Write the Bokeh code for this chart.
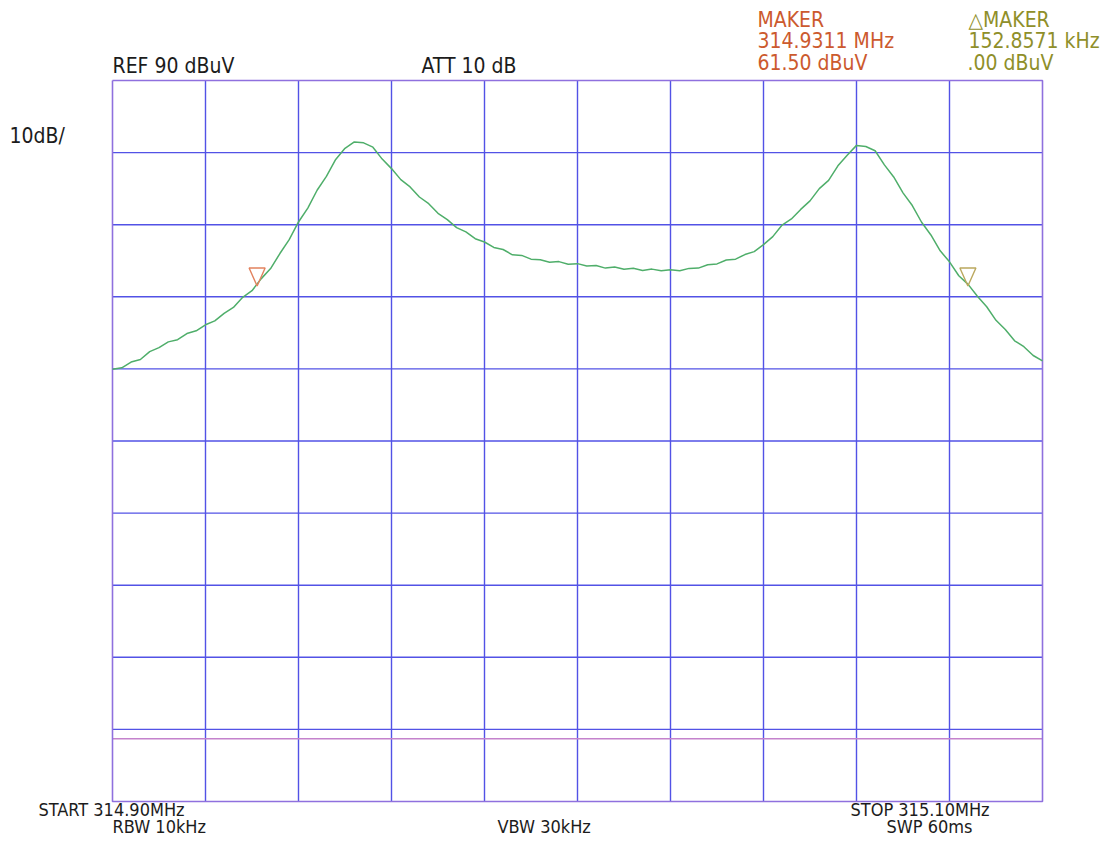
import numpy as np
from bokeh.plotting import figure
from bokeh.models import Range1d
from bokeh.core.properties import value
from bokeh.embed import file_html
from bokeh.resources import INLINE

# ---------------- data ----------------
start_mhz = 314.90
stop_mhz = 315.10
ref_level = 90.0
bottom_level = -10.0
freq_grid = [314.90, 314.92, 314.94, 314.96, 314.98, 315.00,
             315.02, 315.04, 315.06, 315.08, 315.10]
level_grid = [90, 80, 70, 60, 50, 40, 30, 20, 10, 0, -10]
display_line_level = -1.3

marker_freq = 314.9311      # MHz
marker_level = 61.50        # dBuV
delta_freq_khz = 152.8571
delta_level = 0.00

trace_level = [
    49.95, 50.15, 50.95, 51.30, 52.40, 52.95, 53.75, 54.05, 54.90, 55.28,
    56.12, 56.66, 57.70, 58.52, 59.93, 60.85, 62.52, 63.92, 66.00, 67.92,
    70.38, 72.30, 74.78, 76.70, 79.05, 80.60, 81.48, 81.35, 80.75, 79.10,
    77.78, 76.25, 75.24, 73.84, 72.92, 71.58, 70.70, 69.60, 69.00, 68.06,
    67.60, 66.85, 66.56, 65.82, 65.74, 65.22, 65.14, 64.80, 64.88, 64.52,
    64.60, 64.26, 64.33, 63.98, 64.12, 63.83, 63.95, 63.66, 63.84, 63.60,
    63.76, 63.62, 63.94, 63.98, 64.45, 64.56, 65.10, 65.22, 65.86, 66.27,
    67.24, 68.35, 69.95, 70.80, 72.12, 73.30, 75.00, 76.14, 78.16, 79.64,
    81.00, 80.85, 80.26, 78.30, 76.62, 74.42, 72.66, 70.34, 68.58, 66.38,
    64.85, 62.92, 61.72, 60.08, 58.62, 56.74, 55.46, 53.90, 53.08, 51.86,
    51.10,
]
# equally spaced sweep points between START and STOP
trace_freq = np.linspace(start_mhz, stop_mhz, len(trace_level))

# ---------------- layout ----------------
W, H = 1104, 839
GRID_L, GRID_R, GRID_T, GRID_B = 112, 1042, 80, 801   # figure pixels
TEXT_SHIFT = 8   # rendered alphabetic baseline sits this far below the anchor
xpp = (stop_mhz - start_mhz) / (GRID_R - GRID_L)
ypp = (ref_level - bottom_level) / (GRID_B - GRID_T)

def px(x_px):
    return start_mhz + (x_px - GRID_L) * xpp

def py(y_px):
    return ref_level - (y_px - GRID_T) * ypp

p = figure(width=W, height=H, output_backend="svg", toolbar_location=None,
           x_range=Range1d(start_mhz - GRID_L * xpp, stop_mhz + (W - GRID_R) * xpp),
           y_range=Range1d(bottom_level - (H - GRID_B) * ypp, ref_level + GRID_T * ypp),
           x_axis_location=None, y_axis_location=None, min_border=0)
p.grid.visible = False
p.outline_line_color = None
p.background_fill_color = "white"
p.border_fill_color = "white"

GRID_C = "#5252e6"
BORDER_C = "#8f70de"

inner_f = freq_grid[1:-1]
inner_l = level_grid[1:-1]
p.segment(x0=inner_f, y0=[bottom_level] * len(inner_f), x1=inner_f,
          y1=[ref_level] * len(inner_f), line_color=GRID_C, line_width=1.4)
p.segment(x0=[start_mhz] * len(inner_l), y0=inner_l, x1=[stop_mhz] * len(inner_l),
          y1=inner_l, line_color=GRID_C, line_width=1.4)
# display line
p.segment(x0=[start_mhz], y0=[display_line_level], x1=[stop_mhz], y1=[display_line_level],
          line_color="#c482cc", line_width=1.4)
# frame border
p.line(x=[start_mhz, stop_mhz, stop_mhz, start_mhz, start_mhz],
       y=[ref_level, ref_level, bottom_level, bottom_level, ref_level],
       line_color=BORDER_C, line_width=1.6)

# trace
p.line(x=trace_freq, y=trace_level, line_color="#4fae6a", line_width=1.5)

# marker triangles (tip on the marker point)
hw = 8 * xpp
th = 18 * ypp
delta_freq = marker_freq + delta_freq_khz / 1000.0
for f, lv, c in [(marker_freq, marker_level, "#e2825e"),
                 (delta_freq, marker_level + delta_level, "#bba85e")]:
    p.patch(x=[f - hw, f + hw, f], y=[lv + th, lv + th, lv],
            fill_color=None, line_color=c, line_width=1.4)

# texts: (text, left x px, baseline y px, colour, size)
FONT = value("DejaVu Sans Condensed")
DARK = "#1c1c1c"
MK = "#cc5a2e"
DMK = "#8f8f2a"
labels = [
    ("REF 90 dBuV", 112, 73, DARK, 21),
    ("ATT 10 dB", 421, 73, DARK, 21),
    ("10dB/", 9, 143, DARK, 21),
    ("MAKER", 757, 27, MK, 21),
    (f"{marker_freq:.4f} MHz", 757, 48, MK, 21),
    (f"{marker_level:.2f} dBuV", 757, 70, MK, 21),
    ("△MAKER", 968, 27, DMK, 21),
    (f"{delta_freq_khz:.4f} kHz", 968, 48, DMK, 21),
    (".00 dBuV", 967, 70, DMK, 21),
    (f"START {start_mhz:.2f}MHz", 38, 817, DARK, 18),
    (f"STOP {stop_mhz:.2f}MHz", 850, 817, DARK, 18),
    ("RBW 10kHz", 112, 834, DARK, 18),
    ("VBW 30kHz", 497, 834, DARK, 18),
    ("SWP 60ms", 886, 834, DARK, 18),
]
for t, xr, yr, c, fs in labels:
    p.text(x=[px(xr)], y=[py(yr - TEXT_SHIFT)], text=[t], text_font=FONT,
           text_font_size=f"{fs}px", text_color=c, text_align="left",
           text_baseline="alphabetic")

open("out.html", "w").write(file_html(p, INLINE))
